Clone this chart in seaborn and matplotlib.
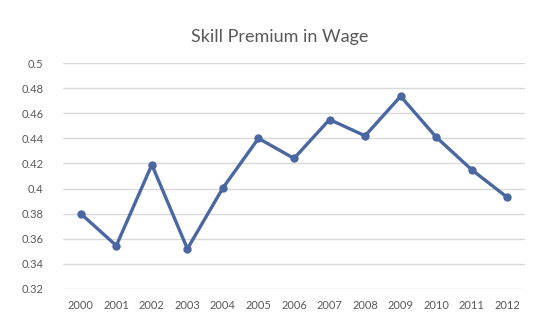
import matplotlib
matplotlib.use("Agg")
import matplotlib.pyplot as plt
import seaborn as sns
import pandas as pd

years = [2000, 2001, 2002, 2003, 2004, 2005, 2006, 2007, 2008, 2009, 2010, 2011, 2012]
premium = [0.380, 0.3545, 0.419, 0.352, 0.4005, 0.440, 0.424, 0.455, 0.442, 0.4735, 0.441, 0.415, 0.393]
yticks = [0.32, 0.34, 0.36, 0.38, 0.40, 0.42, 0.44, 0.46, 0.48, 0.50]
ytick_labels = ["0.32", "0.34", "0.36", "0.38", "0.4", "0.42", "0.44", "0.46", "0.48", "0.5"]

sns.set_theme(style="white")
plt.rcParams['font.family'] = ['Lato', 'DejaVu Sans']

df = pd.DataFrame({"year": years, "premium": premium})

fig = plt.figure(figsize=(5.6, 3.2), dpi=100)
ax = fig.add_axes([0.1125, 0.097, 0.825, 0.706])

sns.lineplot(data=df, x="year", y="premium", ax=ax, color="#4a67a1",
             linewidth=2.4, marker="o", markersize=6, markeredgewidth=0,
             zorder=3)

ax.set_xlim(years[0] - 0.5, years[-1] + 0.5)
ax.set_ylim(0.32, 0.50)
ax.set_yticks(yticks)
ax.set_yticklabels(ytick_labels)
ax.set_xticks(years)
ax.set_xticklabels([str(y) for y in years])
ax.yaxis.grid(True, color="#d9d9d9", linewidth=1)
ax.xaxis.grid(False)
for s in ax.spines.values():
    s.set_visible(False)
ax.tick_params(axis="both", length=0, labelsize=8, labelcolor="#595959")
ax.tick_params(axis="y", pad=14)
ax.tick_params(axis="x", pad=8)
ax.set_xlabel("")
ax.set_ylabel("")

fig.text(0.5, 0.885, "Skill Premium in Wage", ha="center", va="center",
         fontsize=13, color="#595959")

fig.savefig("out.png", dpi=100, facecolor="white")
